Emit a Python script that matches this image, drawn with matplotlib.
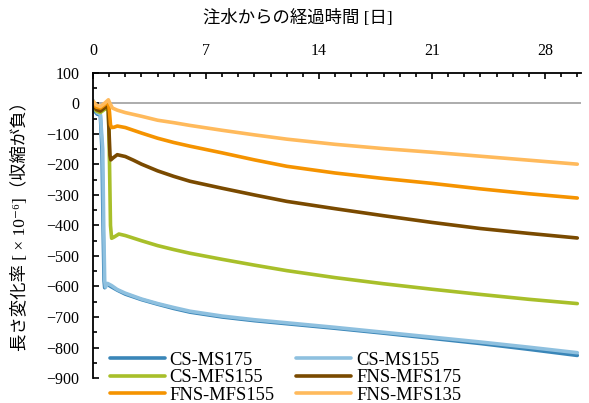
import matplotlib.pyplot as plt
from matplotlib.ticker import MultipleLocator

plt.rcParams['font.family'] = ['Liberation Serif', 'Noto Sans CJK JP', 'DejaVu Serif']

# data (days since water injection, length change x1e-6)
ms175_days = [0, 0.1, 0.25, 0.45, 0.55, 0.62, 0.68, 0.72, 0.85, 1.1, 1.5, 2, 3, 4, 5, 6, 8, 10, 12, 15, 18, 21, 24, 27, 30]
ms175_vals = [-5, -25, -35, -38, -150, -400, -580, -604, -592, -600, -612, -625, -643, -658, -672, -684, -700, -712, -722, -737, -753, -770, -787, -806, -826]

ms155_days = [0, 0.1, 0.25, 0.45, 0.6, 0.66, 0.72, 0.77, 0.9, 1.15, 1.5, 2, 3, 4, 5, 6, 8, 10, 12, 15, 18, 21, 24, 27, 30]
ms155_vals = [10, -15, -30, -35, -150, -400, -580, -602, -590, -597, -610, -622, -641, -656, -669, -681, -697, -709, -719, -734, -750, -766, -782, -799, -817]

mfs155_days = [0, 0.2, 0.45, 0.7, 0.95, 1.02, 1.08, 1.15, 1.3, 1.6, 2, 3, 4, 5, 6, 8, 10, 12, 15, 18, 21, 24, 27, 30]
mfs155_vals = [-5, -25, -30, -20, -15, -200, -400, -442, -438, -428, -433, -450, -466, -479, -491, -511, -530, -548, -571, -591, -609, -626, -642, -656]

fns175_days = [0, 0.2, 0.45, 0.7, 0.92, 0.98, 1.05, 1.1, 1.25, 1.5, 2, 2.5, 3, 4, 5, 6, 8, 10, 12, 15, 18, 21, 24, 27, 30]
fns175_vals = [-5, -20, -25, -15, -5, -80, -170, -185, -178, -168, -174, -186, -199, -221, -239, -255, -278, -300, -321, -345, -368, -390, -410, -426, -441]

fns155_days = [0, 0.2, 0.45, 0.7, 0.95, 1.02, 1.08, 1.15, 1.3, 1.5, 2, 2.5, 3, 4, 5, 6, 8, 10, 12, 15, 18, 21, 24, 27, 30]
fns155_vals = [0, -12, -15, -5, 5, -30, -70, -79, -78, -74, -79, -88, -97, -114, -128, -140, -162, -185, -206, -228, -246, -262, -280, -296, -310]

fns135_days = [0, 0.2, 0.45, 0.7, 0.95, 1.05, 1.2, 1.5, 2, 3, 4, 5, 6, 8, 10, 12, 15, 18, 21, 24, 27, 30]
fns135_vals = [8, -5, -10, 0, 12, 0, -15, -22, -30, -42, -55, -63, -72, -88, -103, -117, -134, -148, -160, -173, -186, -199]

labels = ['CS-MS175', 'CS-MS155', 'CS-MFS155', 'FNS-MFS175', 'FNS-MFS155', 'FNS-MFS135']
colors = ['#3A86B8', '#8EC0DF', '#A8BF2A', '#7A4A00', '#F59300', '#FFBA5C']
series = [(ms175_days, ms175_vals), (ms155_days, ms155_vals), (mfs155_days, mfs155_vals),
          (fns175_days, fns175_vals), (fns155_days, fns155_vals), (fns135_days, fns135_vals)]

fig = plt.figure(figsize=(5.89, 4.03), dpi=100)
ax = fig.add_axes([0.158, 0.062, 0.8276, 0.757])

ax.axhline(0, color='#A6A6A6', lw=1.3, zorder=1)

handles = []
for (d, v), lab, c in zip(series, labels, colors):
    h, = ax.plot(d, v, color=c, lw=2.6, label=lab, solid_capstyle='round',
                 solid_joinstyle='round', zorder=2)
    handles.append(h)

ax.set_xlim(0, 30.2)
ax.set_ylim(-900, 100)

ax.xaxis.tick_top()
ax.xaxis.set_label_position('top')
ax.xaxis.set_major_locator(MultipleLocator(7))
ax.xaxis.set_minor_locator(MultipleLocator(1))
ax.yaxis.set_major_locator(MultipleLocator(100))
ax.yaxis.set_minor_locator(MultipleLocator(50))
ax.tick_params(axis='both', which='both', direction='in', width=1.2, labelsize=11.5)
ax.tick_params(axis='both', which='major', length=4)
ax.tick_params(axis='both', which='minor', length=3)
ax.tick_params(axis='x', which='both', top=True, bottom=False, pad=10)
ax.tick_params(axis='y', which='both', right=False, pad=10)

for s in ['right', 'bottom']:
    ax.spines[s].set_visible(False)
for s in ['top', 'left']:
    ax.spines[s].set_linewidth(1.3)

fig.text(0.505, 0.953, '注水からの経過時間 [日]', ha='center', va='center', fontsize=12.5)
fig.text(0.035, 0.45, '長さ変化率 [ × 10⁻⁶]（収縮が負）', ha='center', va='center',
         rotation=90, fontsize=12.5)

order = [0, 2, 4, 1, 3, 5]
ax.legend([handles[i] for i in order], [labels[i] for i in order], ncol=2,
          loc='upper left', bbox_to_anchor=(0.186, 0.127), bbox_transform=fig.transFigure,
          frameon=False, fontsize=13.3, handlelength=3.0, handletextpad=0.25,
          columnspacing=1.15, labelspacing=0.02, borderpad=0, borderaxespad=0)

fig.savefig('out.png', dpi=100)
